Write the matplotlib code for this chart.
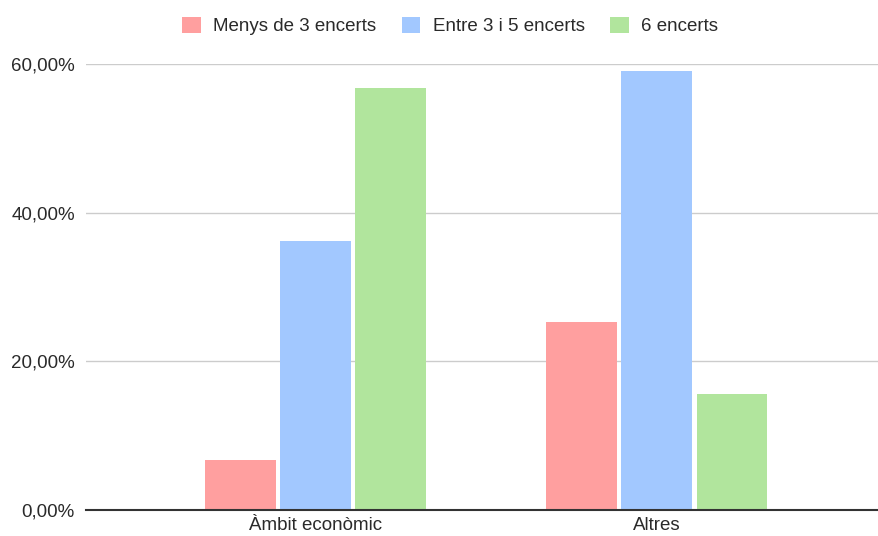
import numpy as np
import matplotlib.pyplot as plt
from matplotlib.ticker import FuncFormatter

# dades
categories = ['Àmbit econòmic', 'Altres']
series_names = ['Menys de 3 encerts', 'Entre 3 i 5 encerts', '6 encerts']
menys_3 = [6.7, 25.3]
entre_3_5 = [36.2, 59.1]
sis = [56.8, 15.6]
colors = ['#ff9f9f', '#a2c8ff', '#b1e59d']

plt.rcParams['font.family'] = ['Liberation Sans', 'DejaVu Sans']

fig = plt.figure(figsize=(8.79, 5.36), dpi=100)
ax = fig.add_axes([86 / 879, 26 / 536, 793 / 879, 446 / 536])

x = np.arange(len(categories))
width = 0.208
step = 0.22
for i, (vals, name) in enumerate(zip([menys_3, entre_3_5, sis], series_names)):
    ax.bar(x + (i - 1) * step, np.array(vals) / 100, width, color=colors[i],
           label=name, zorder=3)

ax.set_xlim(-0.674, 1.651)
ax.set_ylim(0, 0.6)
ax.set_yticks([0, 0.2, 0.4, 0.6])
ax.yaxis.set_major_formatter(FuncFormatter(lambda v, p: f'{v * 100:.2f}%'.replace('.', ',')))
ax.set_xticks(x)
ax.set_xticklabels(categories)
ax.grid(axis='y', color='#cccccc', linewidth=1, zorder=0)
for s in ['top', 'right', 'left']:
    ax.spines[s].set_visible(False)
ax.spines['bottom'].set_color('#333333')
ax.spines['bottom'].set_linewidth(1.5)
ax.spines['bottom'].set_zorder(4)
ax.tick_params(axis='both', length=0, labelsize=13.5, labelcolor='#2a2a2a')
ax.tick_params(axis='y', pad=8)
ax.tick_params(axis='x', pad=5)

fig.legend(loc='center', bbox_to_anchor=(450 / 879, 1 - 26 / 536), ncol=3, frameon=False,
           fontsize=13.5, handlelength=1.0, handleheight=1.0, columnspacing=1.35,
           handletextpad=0.65, labelcolor='#2a2a2a')

fig.savefig('out.png', dpi=100)
